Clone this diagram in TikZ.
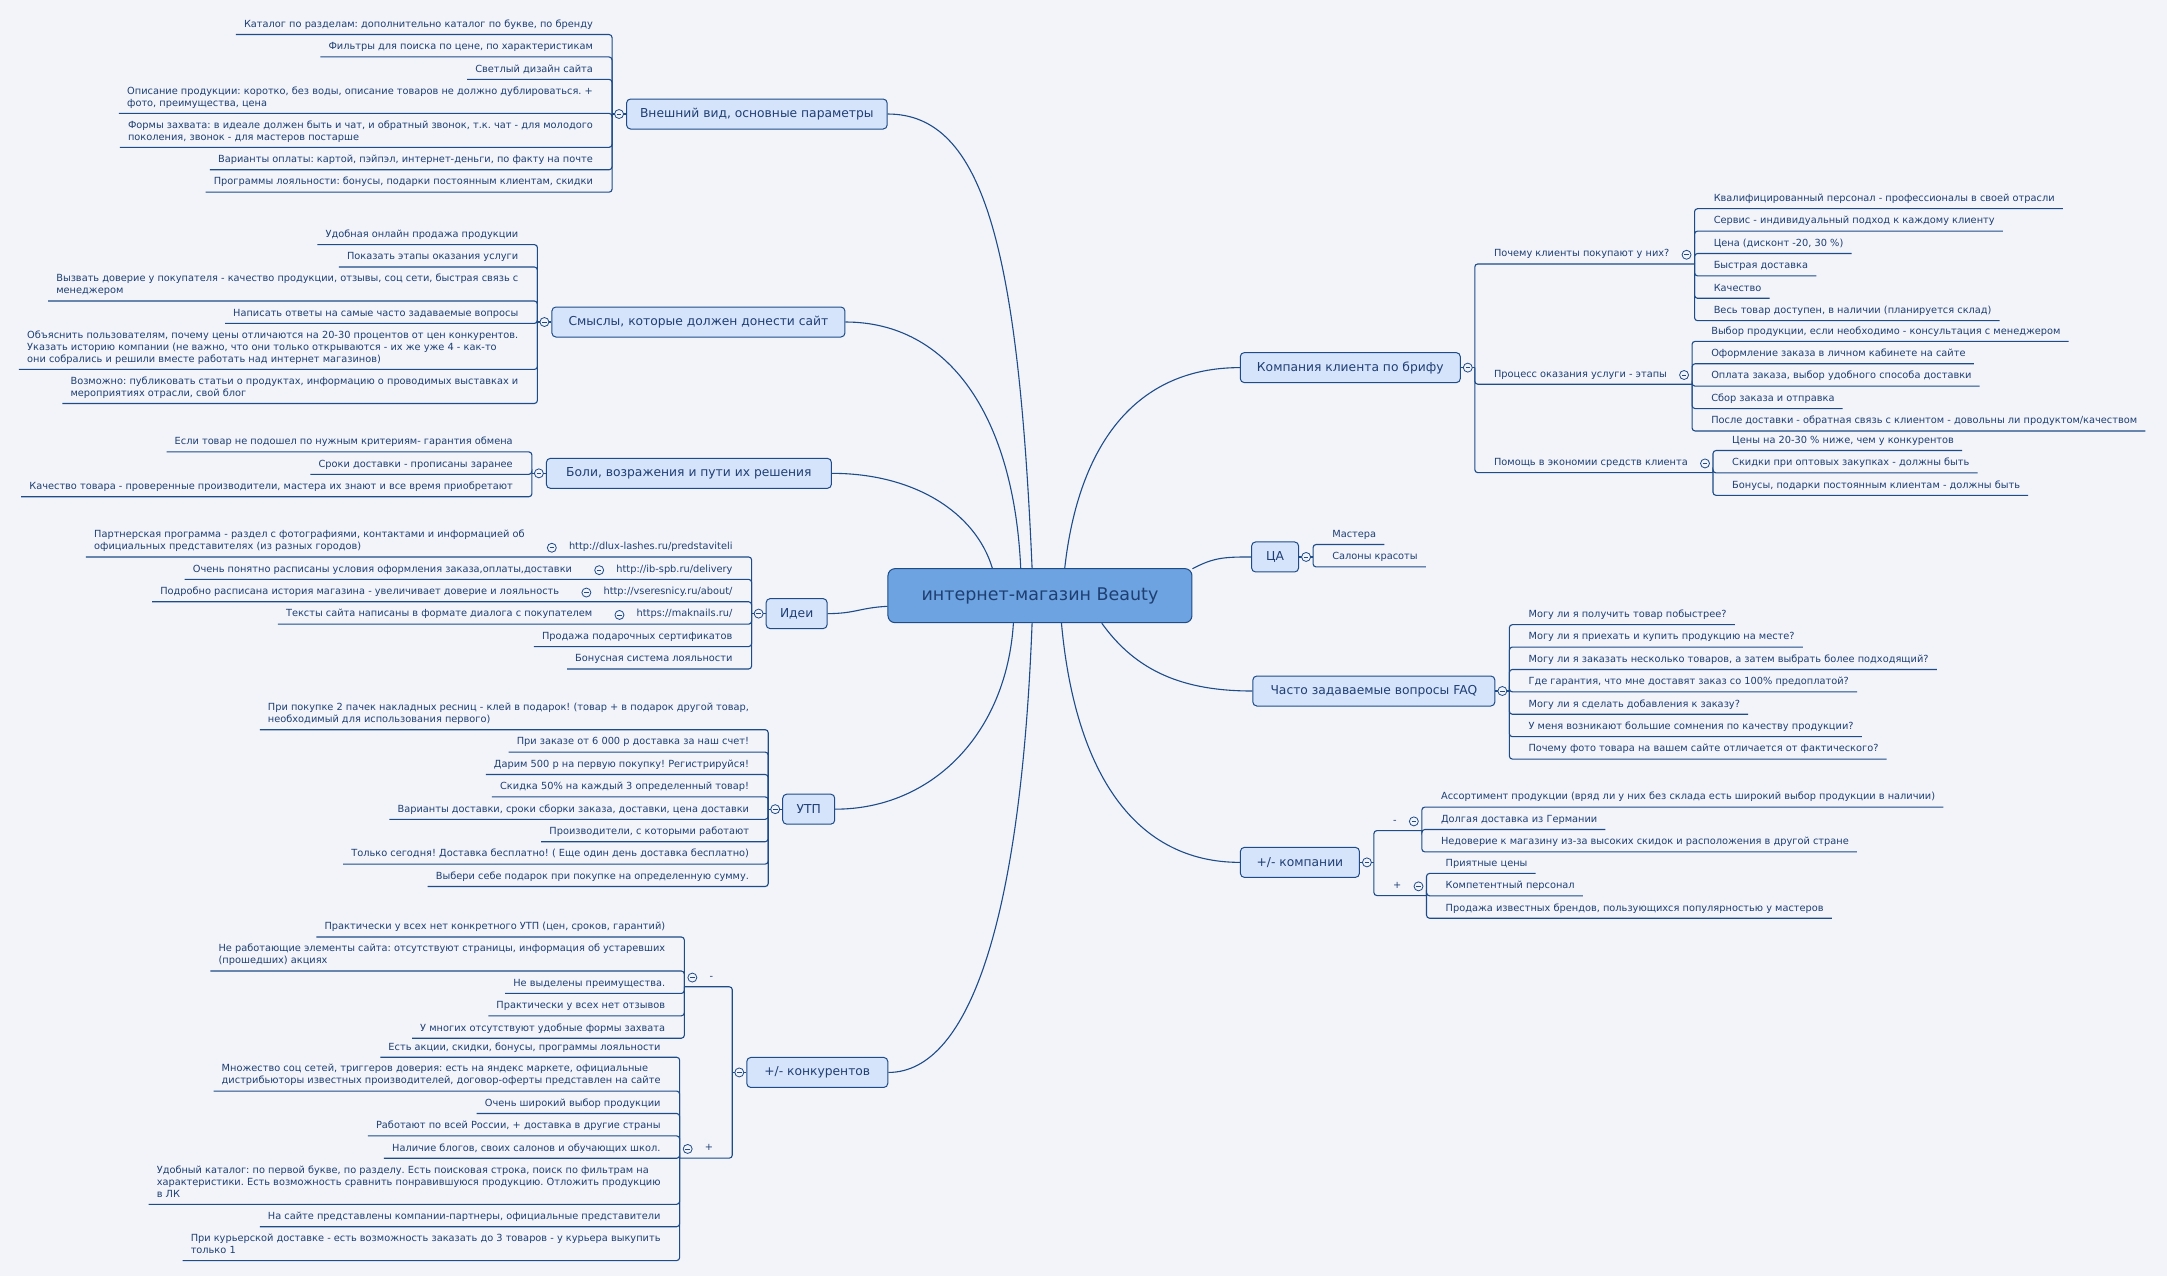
\documentclass[tikz,border=0pt]{standalone}
\usepackage{fontspec}
\setmainfont{DejaVu Sans}
\usetikzlibrary{positioning}

\definecolor{paper}{HTML}{F2F4F9}
\definecolor{edge}{HTML}{1E4C88}
\definecolor{ink}{HTML}{1F3F73}
\definecolor{topicfill}{HTML}{D5E3FB}
\definecolor{hubfill}{HTML}{6CA3E0}

\newcommand\leafstrut{\rule[-4pt]{0pt}{12pt}}

\tikzset{
  hub/.style    = {draw=edge, fill=hubfill, text=ink, rounded corners=7pt, line width=1pt,
                   minimum width=304pt, minimum height=54pt, font=\fontsize{17.5}{21}\selectfont},
  topic/.style  = {draw=edge, fill=topicfill, text=ink, rounded corners=4pt, line width=1pt,
                   minimum height=30pt, inner xsep=13.5pt, font=\fontsize{12.3}{15}\selectfont},
  leaf/.style   = {text=ink, align=left, inner xsep=8pt, inner ysep=3pt,
                   font=\fontsize{9.8}{12}\selectfont,
                   execute at begin node=\leafstrut, execute at end node=\leafstrut},
  port/.style   = {circle, draw=edge, fill=paper, line width=.8pt, inner sep=0pt, minimum size=9pt,
                   path picture={\draw[edge, line width=.7pt]
                     ([xshift=-2.3pt]path picture bounding box.center) --
                     ([xshift=2.3pt]path picture bounding box.center);}},
  branch/.style = {draw=edge, line width=1.1pt, rounded corners=3pt},
  link/.style   = {draw=edge, line width=1.1pt}
}

\frenchspacing
\begin{document}
\begin{tikzpicture}[x=1.38202pt, y=-1.38202pt, node distance=4pt]
\useasboundingbox (0,0) rectangle (1568,923.28);
\fill[paper] (0,0) rectangle (1568,923.28);

% central topic
\node[hub] (shop) at (752.5,431) {интернет-магазин Beauty};

% main topics, left side anchored at the port side
\node[topic, anchor=west, minimum width=260pt] (c1) at (453,82.5) {Внешний вид, основные параметры};
\node[topic, anchor=west, minimum width=293pt] (c2) at (399,233) {Смыслы, которые должен донести сайт};
\node[topic, anchor=west, minimum width=285pt] (c3) at (395,342.5) {Боли, возражения и пути их решения};
\node[topic, anchor=west, minimum width=61pt] (c4) at (554,444) {Идеи};
\node[topic, anchor=west, minimum width=52pt] (c5) at (566,585.5) {УТП};
\node[topic, anchor=west, minimum width=141pt] (c6) at (540,776) {+/- конкурентов};
% main topics, right side
\node[topic, anchor=east, minimum width=220pt] (c7) at (1057,266) {Компания клиента по брифу};
\node[topic, anchor=east, minimum width=47pt] (c8) at (940,403) {ЦА};
\node[topic, anchor=east, minimum width=242pt] (c9) at (1082,500) {Часто задаваемые вопросы FAQ};
\node[topic, anchor=east, minimum width=119pt] (c10) at (984,624) {+/- компании};

% spines
\foreach \value in {1,...,6}
  \coordinate (s\value) at ([xshift=-14pt]c\value.west);
\foreach \value in {7,...,10}
  \coordinate (s\value) at ([xshift=14pt]c\value.east);

% Внешний вид
\node[leaf, anchor=south east] (c1-1) at ([xshift=-11pt]s1 |- 0,25) {Каталог по разделам: дополнительно каталог по букве, по бренду};
\node[leaf, below=of c1-1.south east, anchor=north east] (c1-2) {Фильтры для поиска по цене, по характеристикам};
\node[leaf, below=of c1-2.south east, anchor=north east] (c1-3) {Светлый дизайн сайта};
\node[leaf, below=of c1-3.south east, anchor=north east] (c1-4) {Описание продукции: коротко, без воды, описание товаров не должно дублироваться. +\\фото, преимущества, цена};
\node[leaf, below=of c1-4.south east, anchor=north east] (c1-5) {Формы захвата: в идеале должен быть и чат, и обратный звонок, т.к. чат - для молодого\\поколения, звонок - для мастеров постарше};
\node[leaf, below=of c1-5.south east, anchor=north east] (c1-6) {Варианты оплаты: картой, пэйпэл, интернет-деньги, по факту на почте};
\node[leaf, below=of c1-6.south east, anchor=north east] (c1-7) {Программы лояльности: бонусы, подарки постоянным клиентам, скидки};

% Смыслы
\node[leaf, anchor=south east] (c2-1) at ([xshift=-11pt]s2 |- 0,177) {Удобная онлайн продажа продукции};
\node[leaf, below=of c2-1.south east, anchor=north east] (c2-2) {Показать этапы оказания услуги};
\node[leaf, below=of c2-2.south east, anchor=north east] (c2-3) {Вызвать доверие у покупателя - качество продукции, отзывы, соц сети, быстрая связь с\\менеджером};
\node[leaf, below=of c2-3.south east, anchor=north east] (c2-4) {Написать ответы на самые часто задаваемые вопросы};
\node[leaf, below=of c2-4.south east, anchor=north east] (c2-5) {Объяснить пользователям, почему цены отличаются на 20-30 процентов от цен конкурентов.\\Указать историю компании (не важно, что они только открываются - их же уже 4 - как-то\\они собрались и решили вместе работать над интернет магазинов)};
\node[leaf, below=of c2-5.south east, anchor=north east] (c2-6) {Возможно: публиковать статьи о продуктах, информацию о проводимых выставках и\\мероприятиях отрасли, свой блог};

% Боли
\node[leaf, anchor=south east] (c3-1) at ([xshift=-11pt]s3 |- 0,327) {Если товар не подошел по нужным критериям- гарантия обмена};
\node[leaf, below=of c3-1.south east, anchor=north east] (c3-2) {Сроки доставки - прописаны заранее};
\node[leaf, below=of c3-2.south east, anchor=north east] (c3-3) {Качество товара - проверенные производители, мастера их знают и все время приобретают};

% Идеи, the links and what they show
\node[leaf, anchor=south east] (c4-1) at ([xshift=-11pt]s4 |- 0,403) {http://dlux-lashes.ru/predstaviteli};
\node[leaf, below=of c4-1.south east, anchor=north east] (c4-2) {http://ib-spb.ru/delivery};
\node[leaf, below=of c4-2.south east, anchor=north east] (c4-3) {http://vseresnicy.ru/about/};
\node[leaf, below=of c4-3.south east, anchor=north east] (c4-4) {https://maknails.ru/};
\node[leaf, below=of c4-4.south east, anchor=north east] (c4-5) {Продажа подарочных сертификатов};
\node[leaf, below=of c4-5.south east, anchor=north east] (c4-6) {Бонусная система лояльности};
\foreach \value in {1,...,4}
  \coordinate (s4-\value) at ([xshift=-17pt]c4-\value.south west);
\node[leaf, anchor=south east] (c4-1-1) at ([xshift=-11pt]s4-1) {Партнерская программа - раздел с фотографиями, контактами и информацией об\\официальных представителях (из разных городов)};
\node[leaf, anchor=south east] (c4-2-1) at ([xshift=-11pt]s4-2) {Очень понятно расписаны условия оформления заказа,оплаты,доставки};
\node[leaf, anchor=south east] (c4-3-1) at ([xshift=-11pt]s4-3) {Подробно расписана история магазина - увеличивает доверие и лояльность};
\node[leaf, anchor=south east] (c4-4-1) at ([xshift=-11pt]s4-4) {Тексты сайта написаны в формате диалога с покупателем};

% УТП
\node[leaf, anchor=south east] (c5-1) at ([xshift=-11pt]s5 |- 0,528) {При покупке 2 пачек накладных ресниц - клей в подарок! (товар + в подарок другой товар,\\необходимый для использования первого)};
\node[leaf, below=of c5-1.south east, anchor=north east] (c5-2) {При заказе от 6 000 р доставка за наш счет!};
\node[leaf, below=of c5-2.south east, anchor=north east] (c5-3) {Дарим 500 р на первую покупку! Регистрируйся!};
\node[leaf, below=of c5-3.south east, anchor=north east] (c5-4) {Скидка 50\% на каждый 3 определенный товар!};
\node[leaf, below=of c5-4.south east, anchor=north east] (c5-5) {Варианты доставки, сроки сборки заказа, доставки, цена доставки};
\node[leaf, below=of c5-5.south east, anchor=north east] (c5-6) {Производители, с которыми работают};
\node[leaf, below=of c5-6.south east, anchor=north east] (c5-7) {Только сегодня! Доставка бесплатно! ( Еще один день доставка бесплатно)};
\node[leaf, below=of c5-7.south east, anchor=north east] (c5-8) {Выбери себе подарок при покупке на определенную сумму.};

% +/- конкурентов
\node[leaf, anchor=south east] (c6-1) at ([xshift=-11pt]s6 |- 0,714) {-};
\node[leaf, anchor=south east] (c6-2) at ([xshift=-11pt]s6 |- 0,838) {+};
\coordinate (s6-1) at ([xshift=-17pt]c6-1.south west);
\coordinate (s6-2) at ([xshift=-17pt]c6-2.south west);
\node[leaf, anchor=south east] (c6-1-1) at ([xshift=-11pt]s6-1 |- 0,678) {Практически у всех нет конкретного УТП (цен, сроков, гарантий)};
\node[leaf, below=of c6-1-1.south east, anchor=north east] (c6-1-2) {Не работающие элементы сайта: отсутствуют страницы, информация об устаревших\\(прошедших) акциях};
\node[leaf, below=of c6-1-2.south east, anchor=north east] (c6-1-3) {Не выделены преимущества.};
\node[leaf, below=of c6-1-3.south east, anchor=north east] (c6-1-4) {Практически у всех нет отзывов};
\node[leaf, below=of c6-1-4.south east, anchor=north east] (c6-1-5) {У многих отсутствуют удобные формы захвата};
\node[leaf, anchor=south east] (c6-2-1) at ([xshift=-11pt]s6-2 |- 0,765) {Есть акции, скидки, бонусы, программы лояльности};
\node[leaf, below=of c6-2-1.south east, anchor=north east] (c6-2-2) {Множество соц сетей, триггеров доверия: есть на яндекс маркете, официальные\\дистрибьюторы известных производителей, договор-оферты представлен на сайте};
\node[leaf, below=of c6-2-2.south east, anchor=north east] (c6-2-3) {Очень широкий выбор продукции};
\node[leaf, below=of c6-2-3.south east, anchor=north east] (c6-2-4) {Работают по всей России, + доставка в другие страны};
\node[leaf, below=of c6-2-4.south east, anchor=north east] (c6-2-5) {Наличие блогов, своих салонов и обучающих школ.};
\node[leaf, below=of c6-2-5.south east, anchor=north east] (c6-2-6) {Удобный каталог: по первой букве, по разделу. Есть поисковая строка, поиск по фильтрам на\\характеристики. Есть возможность сравнить понравившуюся продукцию. Отложить продукцию\\в ЛК};
\node[leaf, below=of c6-2-6.south east, anchor=north east] (c6-2-7) {На сайте представлены компании-партнеры, официальные представители};
\node[leaf, below=of c6-2-7.south east, anchor=north east] (c6-2-8) {При курьерской доставке - есть возможность заказать до 3 товаров - у курьера выкупить\\только 1};

% Компания клиента по брифу
\node[leaf, anchor=south west] (c7-1) at ([xshift=11pt]s7 |- 0,191) {Почему клиенты покупают у них?};
\node[leaf, anchor=south west] (c7-2) at ([xshift=11pt]s7 |- 0,278) {Процесс оказания услуги - этапы};
\node[leaf, anchor=south west] (c7-3) at ([xshift=11pt]s7 |- 0,342) {Помощь в экономии средств клиента};
\foreach \value in {1,2,3}
  \coordinate (s7-\value) at ([xshift=17pt]c7-\value.south east);
\node[leaf, anchor=south west] (c7-1-1) at ([xshift=11pt]s7-1 |- 0,151) {Квалифицированный персонал - профессионалы в своей отрасли};
\node[leaf, below=of c7-1-1.south west, anchor=north west] (c7-1-2) {Сервис - индивидуальный подход к каждому клиенту};
\node[leaf, below=of c7-1-2.south west, anchor=north west] (c7-1-3) {Цена (дисконт -20, 30 \%)};
\node[leaf, below=of c7-1-3.south west, anchor=north west] (c7-1-4) {Быстрая доставка};
\node[leaf, below=of c7-1-4.south west, anchor=north west] (c7-1-5) {Качество};
\node[leaf, below=of c7-1-5.south west, anchor=north west] (c7-1-6) {Весь товар доступен, в наличии (планируется склад)};
\node[leaf, anchor=south west] (c7-2-1) at ([xshift=11pt]s7-2 |- 0,247) {Выбор продукции, если необходимо - консультация с менеджером};
\node[leaf, below=of c7-2-1.south west, anchor=north west] (c7-2-2) {Оформление заказа в личном кабинете на сайте};
\node[leaf, below=of c7-2-2.south west, anchor=north west] (c7-2-3) {Оплата заказа, выбор удобного способа доставки};
\node[leaf, below=of c7-2-3.south west, anchor=north west] (c7-2-4) {Сбор заказа и отправка};
\node[leaf, below=of c7-2-4.south west, anchor=north west] (c7-2-5) {После доставки - обратная связь с клиентом - довольны ли продуктом/качеством};
\node[leaf, anchor=south west] (c7-3-1) at ([xshift=11pt]s7-3 |- 0,326) {Цены на 20-30 \% ниже, чем у конкурентов};
\node[leaf, below=of c7-3-1.south west, anchor=north west] (c7-3-2) {Скидки при оптовых закупках - должны быть};
\node[leaf, below=of c7-3-2.south west, anchor=north west] (c7-3-3) {Бонусы, подарки постоянным клиентам - должны быть};

% ЦА
\node[leaf, anchor=south west] (c8-1) at ([xshift=11pt]s8 |- 0,394) {Мастера};
\node[leaf, below=of c8-1.south west, anchor=north west] (c8-2) {Салоны красоты};

% FAQ
\node[leaf, anchor=south west] (c9-1) at ([xshift=11pt]s9 |- 0,452) {Могу ли я получить товар побыстрее?};
\node[leaf, below=of c9-1.south west, anchor=north west] (c9-2) {Могу ли я приехать и купить продукцию на месте?};
\node[leaf, below=of c9-2.south west, anchor=north west] (c9-3) {Могу ли я заказать несколько товаров, а затем выбрать более подходящий?};
\node[leaf, below=of c9-3.south west, anchor=north west] (c9-4) {Где гарантия, что мне доставят заказ со 100\% предоплатой?};
\node[leaf, below=of c9-4.south west, anchor=north west] (c9-5) {Могу ли я сделать добавления к заказу?};
\node[leaf, below=of c9-5.south west, anchor=north west] (c9-6) {У меня возникают большие сомнения по качеству продукции?};
\node[leaf, below=of c9-6.south west, anchor=north west] (c9-7) {Почему фото товара на вашем сайте отличается от фактического?};

% +/- компании
\node[leaf, anchor=south west] (c10-1) at ([xshift=11pt]s10 |- 0,601) {-};
\node[leaf, anchor=south west] (c10-2) at ([xshift=11pt]s10 |- 0,648) {+};
\coordinate (s10-1) at ([xshift=17pt]c10-1.south east);
\coordinate (s10-2) at ([xshift=17pt]c10-2.south east);
\node[leaf, anchor=south west] (c10-1-1) at ([xshift=11pt]s10-1 |- 0,584) {Ассортимент продукции (вряд ли у них без склада есть широкий выбор продукции в наличии)};
\node[leaf, below=of c10-1-1.south west, anchor=north west] (c10-1-2) {Долгая доставка из Германии};
\node[leaf, below=of c10-1-2.south west, anchor=north west] (c10-1-3) {Недоверие к магазину из-за высоких скидок и расположения в другой стране};
\node[leaf, anchor=south west] (c10-2-1) at ([xshift=11pt]s10-2 |- 0,632) {Приятные цены};
\node[leaf, below=of c10-2-1.south west, anchor=north west] (c10-2-2) {Компетентный персонал};
\node[leaf, below=of c10-2-2.south west, anchor=north west] (c10-2-3) {Продажа известных брендов, пользующихся популярностью у мастеров};

% curves from the central topic
\draw[link] (shop.106) .. controls +(-10,-230) and +(70,0) .. (c1.east);
\draw[link] (shop.125) .. controls +(-5,-110) and +(75,0) .. (c2.east);
\draw[link] (shop.150) .. controls +(-12,-40) and +(60,0) .. (c3.east);
\draw[link] (shop.184) .. controls +(-20,1) and +(20,0) .. (c4.east);
\draw[link] (shop.226) .. controls +(-5,80) and +(70,0) .. (c5.east);
\draw[link] (shop.254) .. controls +(-8,210) and +(60,0) .. (c6.east);
\draw[link] (shop.48) .. controls +(10,-90) and +(-75,0) .. (c7.west);
\draw[link] (shop.10) .. controls +(15,-8) and +(-20,0) .. (c8.west);
\draw[link] (shop.336) .. controls +(25,35) and +(-50,0) .. (c9.west);
\draw[link] (shop.308) .. controls +(10,110) and +(-75,0) .. (c10.west);

% branches
\foreach \value in {1,...,6}
  \draw[link] (s\value) -- (c\value.west);
\foreach \value in {7,...,10}
  \draw[link] (s\value) -- (c\value.east);

\foreach \value in {1,...,7}
  \draw[branch] (s1) |- (c1-\value.south west);
\foreach \value in {1,...,6}
  \draw[branch] (s2) |- (c2-\value.south west);
\foreach \value in {1,...,3}
  \draw[branch] (s3) |- (c3-\value.south west);
\foreach \value in {1,...,4}
  \draw[branch] (s4) |- (c4-\value-1.south west);
\foreach \value in {5,6}
  \draw[branch] (s4) |- (c4-\value.south west);
\foreach \value in {1,...,8}
  \draw[branch] (s5) |- (c5-\value.south west);
\foreach \value in {1,2}
  \draw[branch] (s6) |- (s6-\value);
\foreach \value in {1,...,5}
  \draw[branch] (s6-1) |- (c6-1-\value.south west);
\foreach \value in {1,...,8}
  \draw[branch] (s6-2) |- (c6-2-\value.south west);

\foreach \value in {1,2,3}
  \draw[branch] (s7) |- (s7-\value);
\foreach \value in {1,...,6}
  \draw[branch] (s7-1) |- (c7-1-\value.south east);
\foreach \value in {1,...,5}
  \draw[branch] (s7-2) |- (c7-2-\value.south east);
\foreach \value in {1,...,3}
  \draw[branch] (s7-3) |- (c7-3-\value.south east);
\foreach \value in {1,2}
  \draw[branch] (s8) |- (c8-\value.south east);
\foreach \value in {1,...,7}
  \draw[branch] (s9) |- (c9-\value.south east);
\foreach \value in {1,2}
  \draw[branch] (s10) |- (s10-\value);
\foreach \value in {1,...,3}
  \draw[branch] (s10-1) |- (c10-1-\value.south east);
\foreach \value in {1,...,3}
  \draw[branch] (s10-2) |- (c10-2-\value.south east);

% collapse markers
\foreach \value in {1,...,6}
  \node[port] (p\value) at ([xshift=-7pt]c\value.west) {};
\foreach \value in {7,...,10}
  \node[port] (p\value) at ([xshift=7pt]c\value.east) {};
\foreach \value in {1,...,4}
  \node[port] (p4-\value) at ([xshift=-9pt]c4-\value.west) {};
\foreach \value in {1,2}
  \node[port] (p6-\value) at ([xshift=-9pt]c6-\value.west) {};
\foreach \value in {1,2,3}
  \node[port] (p7-\value) at ([xshift=9pt]c7-\value.east) {};
\foreach \value in {1,2}
  \node[port] (p10-\value) at ([xshift=9pt]c10-\value.east) {};
\end{tikzpicture}
\end{document}
